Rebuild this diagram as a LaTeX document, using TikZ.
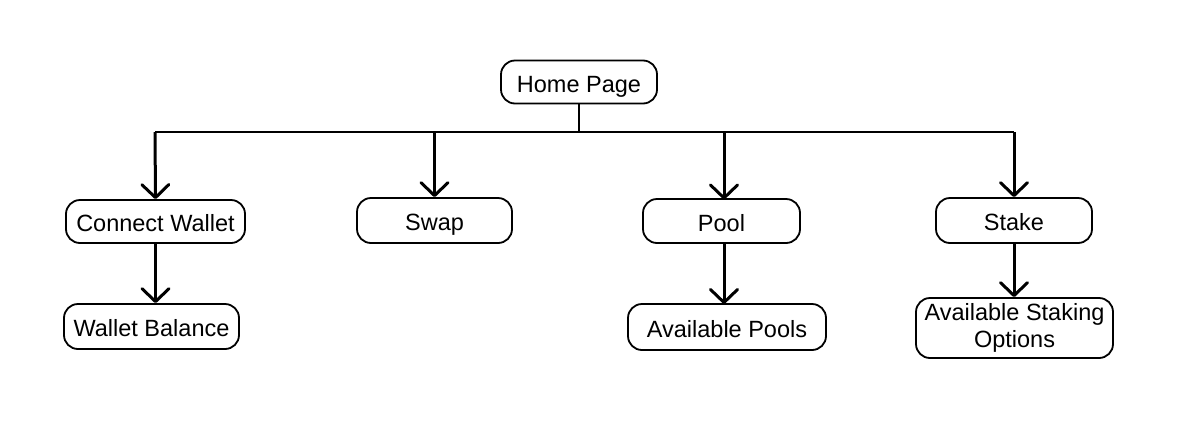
\documentclass[tikz,border=0pt]{standalone}
\usepackage{fontspec}
\setmainfont{Liberation Sans}
\usetikzlibrary{arrows.meta}
\begin{document}
\begin{tikzpicture}[x=1pt,y=-1pt,
  box/.style={draw=black,line width=1.8pt,rounded corners=14pt,fill=white,inner sep=0pt,font=\fontsize{23.5}{27}\selectfont,align=center},
  one/.style={box,text height=20pt,text depth=0pt},
  arr/.style={line width=3pt,line join=round,-{Straight Barb[length=13pt,width=27pt,line width=3pt,round]}},
  thin/.style={line width=1.8pt}]
\useasboundingbox (0,0) rectangle (1177,426);
\fill[white] (0,0) rectangle (1177,426);
\node[one,minimum width=156pt,minimum height=43pt] (home) at (579,82) {Home Page};
\node[one,minimum width=179pt,minimum height=43pt] (cw) at (155.5,221.5) {Connect Wallet};
\node[one,minimum width=155pt,minimum height=45pt] (swap) at (434.5,220.5) {Swap};
\node[one,minimum width=157pt,minimum height=44pt] (pool) at (721.5,221) {Pool};
\node[one,minimum width=156pt,minimum height=45pt] (stake) at (1014,220.5) {Stake};
\node[one,minimum width=175pt,minimum height=45pt] (wb) at (151.5,326.5) {Wallet Balance};
\node[one,minimum width=198pt,minimum height=46pt] (ap) at (727,327) {Available Pools};
\node[box,minimum width=197pt,minimum height=60pt] (aso) at (1014.5,328) {Available Staking\\Options};
\coordinate (j) at (579,132);
\coordinate (l) at (155,132);
\coordinate (r) at (1014,132);
\draw[thin] (home.south) -- (j);
\draw[thin] (l) -- (r);
\draw[arr] (l) -- (cw.north);
\draw[arr] (swap.north |- j) -- (swap.north);
\draw[arr] (724,132) -- (724,199.5);
\draw[arr] (r) -- (stake.north);
\draw[arr] (cw.south) -- (cw.south |- wb.north);
\draw[arr] (724,243) -- (724,304);
\draw[arr] (stake.south) -- (stake.south |- aso.north);
\end{tikzpicture}
\end{document}
